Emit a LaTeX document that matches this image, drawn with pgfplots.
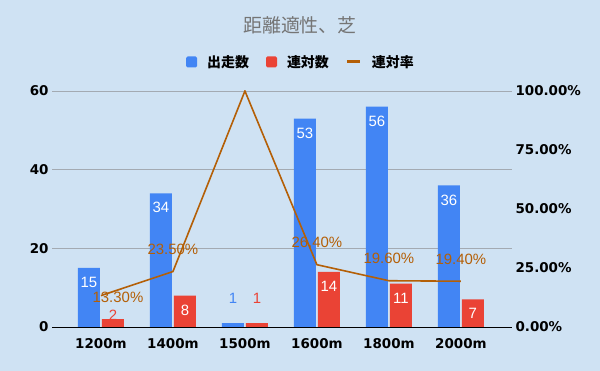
\documentclass[border=0pt]{standalone}
\usepackage{fontspec}
\usepackage{pgfplots}
\pgfplotsset{compat=1.18}
\setmainfont{Liberation Sans}
\newfontfamily\cjk{Noto Sans CJK JP}
\newfontfamily\tickf{DejaVu Sans}
\definecolor{bg}{HTML}{CFE2F3}
\definecolor{cblue}{HTML}{4285F4}
\definecolor{cred}{HTML}{EA4335}
\definecolor{cline}{HTML}{B45F06}
\definecolor{cgrid}{HTML}{A3AAB2}
\definecolor{ctitle}{HTML}{757575}
\begin{document}
\begin{tikzpicture}
\fill[bg] (0,0) rectangle (600bp,371bp);
\begin{axis}[
  at={(52bp,44bp)}, anchor=south west, scale only axis,
  width=460bp, height=236bp,
  xmin=-0.68, xmax=5.71, ymin=0, ymax=60,
  ybar, bar width=22bp,
  axis x line*=bottom, axis y line*=left,
  y axis line style={draw=none},
  x axis line style={black, line width=0.9bp},
  tick style={draw=none},
  xtick={0,...,5}, xticklabels={1200m,1400m,1500m,1600m,1800m,2000m},
  ytick={0,20,40,60},
  ymajorgrids, grid style={cgrid, line width=0.7bp},
  tick label style={font=\tickf\bfseries\fontsize{13.5}{15}\selectfont},
  /pgf/number format/assume math mode=true,
  xticklabel style={yshift=-4bp},
  title={距離適性、芝},
  title style={at={(0.539,1.254)}, anchor=center, font=\cjk\fontsize{19}{22}\selectfont, text=ctitle},
  legend style={at={(0.539,1.123)}, anchor=center, draw=none, fill=none,
    font=\cjk\bfseries\fontsize{14}{16}\selectfont,
    /tikz/every even column/.append style={column sep=17bp},
    /tikz/every odd column/.append style={column sep=10bp},
    nodes={inner sep=0pt, anchor=west}},
  legend columns=3,
  every node near coord/.append style={font=\fontsize{15}{17}\selectfont, inner sep=0pt},
]
% bars with labels inside
\addplot[fill=cblue, draw=none, bar shift=-12bp,
  legend image code/.code={\fill[cblue, rounded corners=1.5bp] (0bp,-5.5bp) rectangle (11bp,5.5bp);},
  point meta=explicit symbolic, nodes near coords,
  every node near coord/.append style={anchor=north, text=white, yshift=-9bp},
] coordinates {(0,15) [15] (1,34) [34] (2,1) [] (3,53) [53] (4,56) [56] (5,36) [36]};
\addlegendentry{出走数}
\addplot[fill=cred, draw=none, bar shift=12bp,
  legend image code/.code={\fill[cred, rounded corners=1.5bp] (0bp,-5.5bp) rectangle (11bp,5.5bp);},
  point meta=explicit symbolic, nodes near coords,
  every node near coord/.append style={anchor=north, text=white, yshift=-9bp},
] coordinates {(0,2) [] (1,8) [8] (2,1) [] (3,14) [14] (4,11) [11] (5,7) [7]};
\addlegendentry{連対数}
\addlegendimage{legend image code/.code={\draw[cline, line width=3bp] (0bp,0bp) -- (13bp,0bp);}}
\addlegendentry{連対率}
% labels above short bars
\addplot[forget plot, draw=none, fill=none, bar shift=-12bp,
  point meta=explicit symbolic, nodes near coords,
  every node near coord/.append style={anchor=south, text=cblue, yshift=19bp},
] coordinates {(2,1) [1]};
\addplot[forget plot, draw=none, fill=none, bar shift=12bp,
  point meta=explicit symbolic, nodes near coords,
  every node near coord/.append style={anchor=south, text=cred, yshift=19bp},
] coordinates {(2,1) [1]};
\addplot[forget plot, draw=none, fill=none, bar shift=12bp,
  point meta=explicit symbolic, nodes near coords,
  every node near coord/.append style={anchor=south, text=cred, yshift=-2bp},
] coordinates {(0,2) [2]};
\end{axis}
\begin{axis}[
  at={(52bp,44bp)}, anchor=south west, scale only axis,
  width=460bp, height=236bp,
  xmin=-0.68, xmax=5.71, ymin=0, ymax=100,
  axis x line=none, axis y line*=right,
  y axis line style={draw=none},
  tick style={draw=none},
  ytick={0,25,50,75,100},
  yticklabels={0.00\%,25.00\%,50.00\%,75.00\%,100.00\%},
  tick label style={font=\tickf\bfseries\fontsize{13.5}{15}\selectfont},
  every node near coord/.append style={font=\fontsize{15}{17}\selectfont, inner sep=0pt, anchor=center, text=cline},
]
\addplot[cline, line width=1.6bp, mark=none]
  coordinates {(0,13.3) (1,23.5) (2,100) (3,26.4) (4,19.6) (5,19.4)};
\addplot[draw=none, mark=none, point meta=explicit symbolic, nodes near coords,
  every node near coord/.append style={yshift=22bp}]
  coordinates {(1,23.5) [23.50\%] (3,26.4) [26.40\%] (4,19.6) [19.60\%] (5,19.4) [19.40\%]};
\addplot[draw=none, mark=none, point meta=explicit symbolic, nodes near coords,
  every node near coord/.append style={xshift=17bp, yshift=-2bp}]
  coordinates {(0,13.3) [13.30\%]};
\end{axis}
\end{tikzpicture}
\end{document}
